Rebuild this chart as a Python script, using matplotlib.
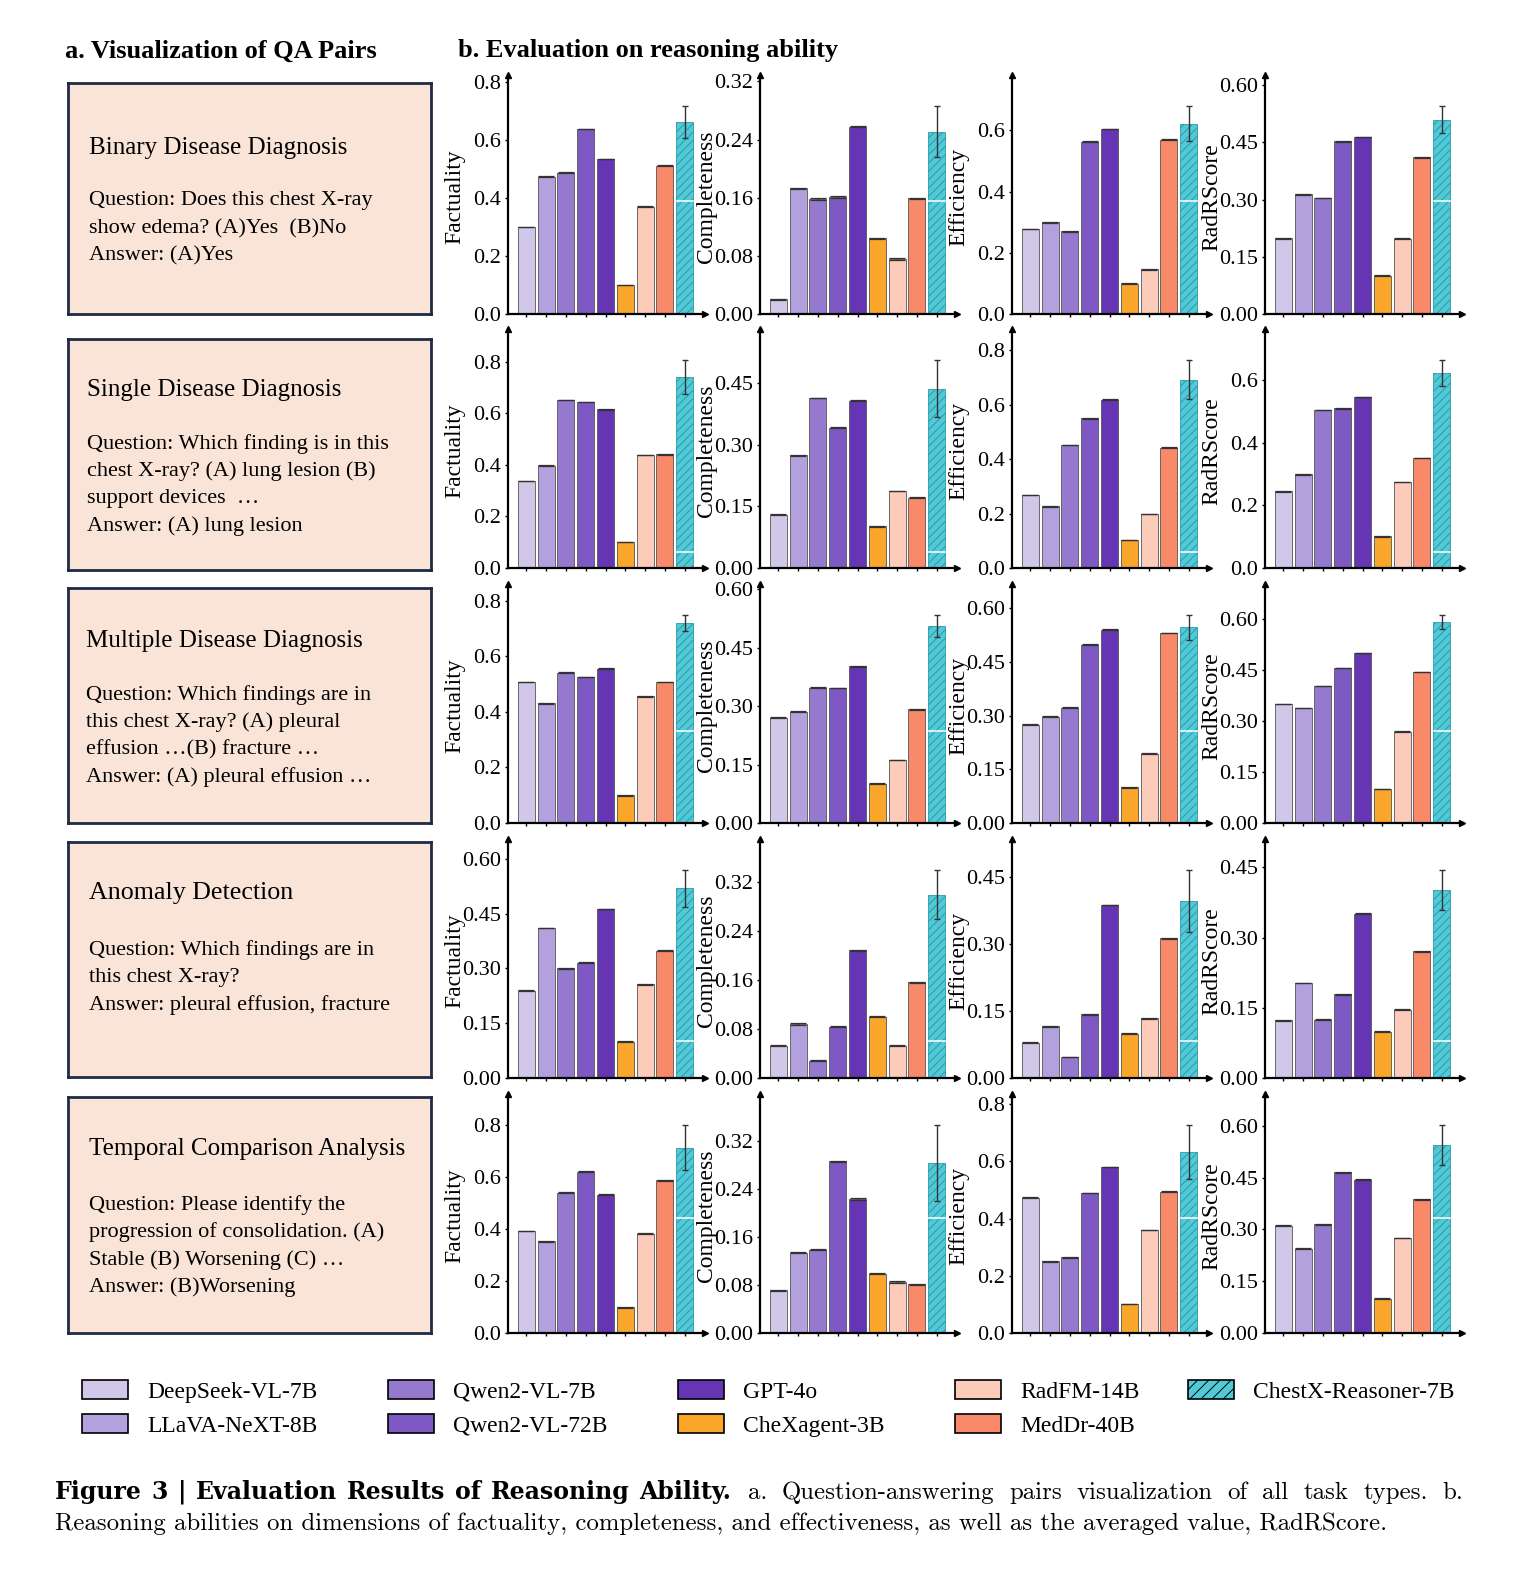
import matplotlib
matplotlib.use("Agg")
import matplotlib.pyplot as plt
from matplotlib.patches import Patch
import numpy as np

plt.rcParams['font.family'] = ['Liberation Serif', 'DejaVu Serif']
plt.rcParams['hatch.linewidth'] = 0.7

# modellen en kleuren
models = ["DeepSeek-VL-7B", "LLaVA-NeXT-8B", "Qwen2-VL-7B", "Qwen2-VL-72B", "GPT-4o",
          "CheXagent-3B", "RadFM-14B", "MedDr-40B", "ChestX-Reasoner-7B"]
colors = ["#D1C7E9", "#B3A1DD", "#9479CF", "#7E58C3", "#6535B4",
          "#F9A62A", "#FCCBB9", "#F98A69", "#52C9D7"]
metrics = ["Factuality", "Completeness", "Efficiency", "RadRScore"]

# per taak: factuality, completeness, efficiency, radrscore (9 modellen)
binary = [[0.300, 0.473, 0.487, 0.638, 0.534, 0.100, 0.370, 0.511, 0.662],
          [0.020, 0.173, 0.158, 0.161, 0.258, 0.104, 0.076, 0.159, 0.251],
          [0.278, 0.299, 0.270, 0.563, 0.605, 0.099, 0.146, 0.570, 0.622],
          [0.198, 0.314, 0.304, 0.453, 0.464, 0.100, 0.197, 0.411, 0.510]]
single = [[0.338, 0.397, 0.652, 0.644, 0.615, 0.101, 0.438, 0.441, 0.740],
          [0.130, 0.274, 0.413, 0.341, 0.407, 0.101, 0.187, 0.171, 0.436],
          [0.268, 0.226, 0.451, 0.549, 0.618, 0.103, 0.199, 0.442, 0.691],
          [0.245, 0.299, 0.505, 0.510, 0.546, 0.101, 0.275, 0.351, 0.622]]
multiple = [[0.507, 0.431, 0.541, 0.525, 0.556, 0.099, 0.456, 0.508, 0.720],
            [0.271, 0.286, 0.348, 0.347, 0.403, 0.101, 0.162, 0.292, 0.506],
            [0.274, 0.297, 0.322, 0.498, 0.540, 0.100, 0.193, 0.530, 0.546],
            [0.350, 0.338, 0.403, 0.456, 0.500, 0.100, 0.269, 0.444, 0.591]]
anomaly = [[0.239, 0.411, 0.300, 0.316, 0.463, 0.099, 0.256, 0.349, 0.519],
           [0.053, 0.088, 0.028, 0.084, 0.208, 0.100, 0.053, 0.156, 0.299],
           [0.079, 0.116, 0.047, 0.143, 0.388, 0.099, 0.134, 0.313, 0.397],
           [0.123, 0.203, 0.124, 0.179, 0.351, 0.099, 0.146, 0.271, 0.401]]
temporal = [[0.394, 0.353, 0.541, 0.622, 0.533, 0.099, 0.383, 0.588, 0.714],
            [0.071, 0.134, 0.139, 0.286, 0.223, 0.099, 0.085, 0.081, 0.283],
            [0.473, 0.251, 0.265, 0.489, 0.580, 0.101, 0.360, 0.494, 0.632],
            [0.311, 0.244, 0.315, 0.465, 0.444, 0.099, 0.275, 0.387, 0.544]]

# foutmarges van ChestX-Reasoner per taak en metriek
chestx_err = [[0.054, 0.035, 0.057, 0.035],
              [0.066, 0.069, 0.072, 0.042],
              [0.028, 0.028, 0.034, 0.020],
              [0.050, 0.040, 0.069, 0.043],
              [0.087, 0.063, 0.095, 0.058]]
other_err = 0.001

# tick-stappen per paneel
tick_steps = [[0.2, 0.08, 0.2, 0.15],
              [0.2, 0.15, 0.2, 0.2],
              [0.2, 0.15, 0.15, 0.15],
              [0.15, 0.08, 0.15, 0.15],
              [0.2, 0.08, 0.2, 0.15]]

task_data = [binary, single, multiple, anomaly, temporal]

task_titles = ["Binary Disease Diagnosis", "Single Disease Diagnosis",
               "Multiple Disease Diagnosis", "Anomaly Detection",
               "Temporal Comparison Analysis"]
task_text = [
    ["Question: Does this chest X-ray", "show edema? (A)Yes  (B)No", "Answer: (A)Yes"],
    ["Question: Which finding is in this", "chest X-ray? (A) lung lesion (B)",
     "support devices  \u2026", "Answer: (A) lung lesion"],
    ["Question: Which findings are in", "this chest X-ray? (A) pleural",
     "effusion \u2026(B) fracture \u2026", "Answer: (A) pleural effusion \u2026"],
    ["Question: Which findings are in", "this chest X-ray?",
     "Answer: pleural effusion, fracture"],
    ["Question: Please identify the", "progression of consolidation. (A)",
     "Stable (B) Worsening (C) \u2026", "Answer: (B)Worsening"],
]

caption_bold = ["Figure", "3", "|", "Evaluation", "Results", "of", "Reasoning", "Ability."]
caption_line1 = ["a.", "Question-answering", "pairs", "visualization", "of", "all", "task",
                 "types.", "b."]
caption_line2 = ("Reasoning abilities on dimensions of factuality, completeness, "
                 "and effectiveness, as well as the averaged value, RadRScore.")

W, H = 1524, 1574
fig = plt.figure(figsize=(W / 100, H / 100), dpi=100)
renderer = fig.canvas.get_renderer()


def fx(px):
    return px / W


def fy(py):
    return 1 - py / H


# titels
fig.text(fx(65), fy(51), "a. Visualization of QA Pairs", fontsize=19, fontweight='bold', va='center')
fig.text(fx(458), fy(51), "b. Evaluation on reasoning ability", fontsize=19, fontweight='bold', va='center')

# tekstvakken links
box_tops = [83, 339, 588, 842, 1097]
box_bottoms = [314, 570, 823, 1077, 1333]
title_x = [89, 87, 86, 89, 89]
title_y = [148, 390, 641, 893, 1149]
first_line_y = [201, 444, 695, 950, 1205]
title_sizes = [18, 18, 18, 18.7, 18]
for i in range(5):
    bx = fig.add_axes([fx(68), fy(box_bottoms[i]), (431 - 68) / W,
                       (box_bottoms[i] - box_tops[i]) / H])
    bx.set_facecolor('#FAE3D7')
    bx.set_xticks([])
    bx.set_yticks([])
    for s in bx.spines.values():
        s.set_color('#1F2A44')
        s.set_linewidth(2)
    fig.text(fx(title_x[i]), fy(title_y[i]), task_titles[i], fontsize=title_sizes[i], va='center')
    for j, line in enumerate(task_text[i]):
        fig.text(fx(title_x[i]), fy(first_line_y[i] + j * 27.5), line, fontsize=16, va='center')

# staafdiagrammen
col_left = [508, 760, 1012, 1265]
row_bottom = [314, 568, 823, 1078, 1333]
white_mark = [0.473, 0.067, 0.387, 0.155, 0.483]
ax_w, ax_h = 197, 239
x = np.arange(len(models))
edge_colors = ["#555555"] * 8 + ["#2A9AA8"]

for r, task in enumerate(task_data):
    for c in range(4):
        vals = np.array(task[c])
        errs = np.array([other_err] * 8 + [chestx_err[r][c]])
        ax = fig.add_axes([fx(col_left[c]), fy(row_bottom[r]), ax_w / W, ax_h / H])
        bars = ax.bar(x, vals, width=0.86, color=colors, edgecolor=edge_colors, linewidth=0.6)
        bars[-1].set_hatch('////')
        ax.errorbar(x[:-1], vals[:-1], yerr=errs[:-1], fmt='none', ecolor='#333333',
                    elinewidth=0.8, capsize=5.5, capthick=0.9)
        ax.errorbar(x[-1:], vals[-1:], yerr=errs[-1:], fmt='none', ecolor='#333333',
                    elinewidth=1, capsize=2.5, capthick=1)
        ax.plot([x[-1] - 0.4, x[-1] + 0.4], [white_mark[r]] * 2, color='white', lw=1.3,
                alpha=0.85, transform=ax.get_xaxis_transform())

        top = 1.15 * max(vals + errs)
        ax.set_ylim(0, top)
        ax.set_xlim(-0.92, 9.02)
        step = tick_steps[r][c]
        ticks = np.arange(0, top + 1e-9, step)
        ax.set_yticks(ticks)
        ax.set_yticklabels([f"{t:.1f}" if step == 0.2 else f"{t:.2f}" for t in ticks])
        ax.set_xticks(x)
        ax.set_xticklabels([])
        ax.tick_params(axis='y', labelsize=16, length=2.5, width=1, pad=2.5)
        ax.tick_params(axis='x', length=2.5, width=1)
        ax.spines['top'].set_visible(False)
        ax.spines['right'].set_visible(False)
        ax.spines['left'].set_linewidth(1.6)
        ax.spines['bottom'].set_linewidth(1.6)
        ax.patch.set_alpha(0)
        ax.plot(0, 1, marker='^', color='k', ms=5, transform=ax.transAxes, clip_on=False)
        ax.plot(1, 0, marker='>', color='k', ms=5, transform=ax.transAxes, clip_on=False)
        ax.text(-0.272, 0.49, metrics[c], rotation=90, transform=ax.transAxes,
                ha='center', va='center', fontsize=17)

# legenda (laatste kolom apart, dichter op de vorige)
handles = []
for m, col in zip(models, colors):
    hatch = '///' if m == "ChestX-Reasoner-7B" else None
    handles.append(Patch(facecolor=col, edgecolor='black', linewidth=1.2, hatch=hatch, label=m))
leg_kw = dict(loc='upper left', frameon=False, fontsize=17, handlelength=1.95,
              handleheight=0.85, handletextpad=0.8, labelspacing=0.5, borderpad=0,
              borderaxespad=0)
fig.legend(handles=handles[:-1], bbox_to_anchor=(fx(82), fy(1380)), ncol=4,
           columnspacing=3.0, **leg_kw)
fig.legend(handles=handles[-1:], bbox_to_anchor=(fx(1188), fy(1380)), ncol=1, **leg_kw)


# onderschrift: woorden uitgevuld tussen twee x-posities
def justify(words, x0, x1, ypx, **kw):
    items = [fig.text(0, fy(ypx), w, va='baseline', **kw) for w in words]
    widths = [t.get_window_extent(renderer).width for t in items]
    gap = (x1 - x0 - sum(widths)) / (len(words) - 1)
    pos = x0
    for t, w in zip(items, widths):
        t.set_x(fx(pos))
        pos += w + gap


justify(caption_bold, 55, 731, 1499, fontfamily='DejaVu Serif', fontweight='bold', fontsize=17)
justify(caption_line1, 748, 1463, 1499, fontfamily='cmr10', fontsize=17.85)
fig.text(fx(55), fy(1530), caption_line2, fontfamily='cmr10', fontsize=17.85, va='baseline')

fig.savefig("out.png", dpi=100)
